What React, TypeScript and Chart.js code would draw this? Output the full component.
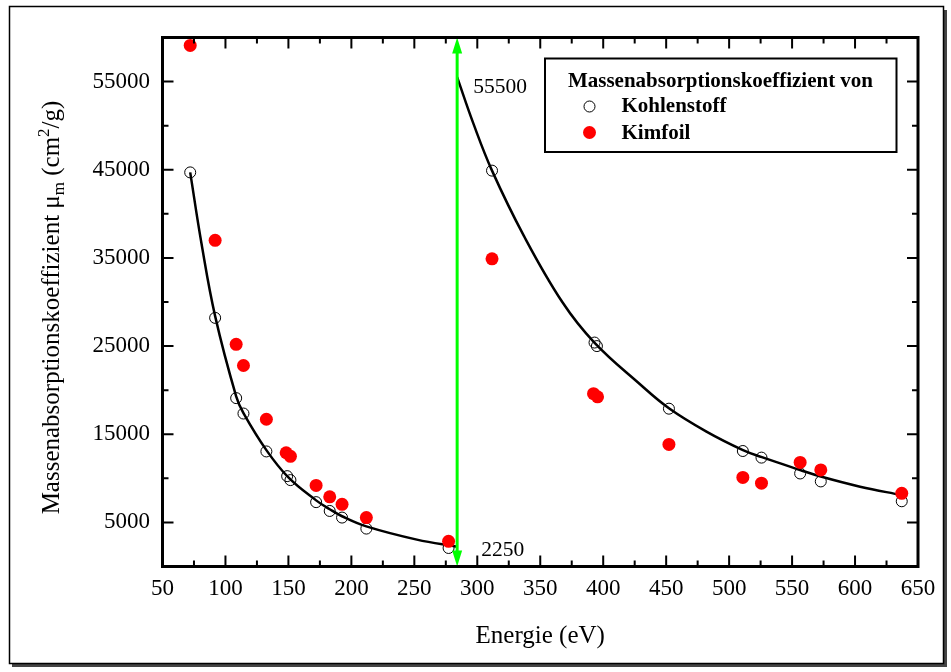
import React, { useEffect, useRef } from "react";
import { Chart, registerables } from "chart.js";

Chart.register(...registerables);

// ---------- data ----------
const kohlenstoffX = [72, 91.8, 108.5, 114.3, 132.5, 149, 151.6, 172, 182.8, 192.6, 211.9, 277.2, 311.7, 393.1, 395, 452.2, 510.9, 525.7, 556.4, 572.8, 637.1];
const kohlenstoffY = [44700, 28200, 19100, 17350, 13050, 10250, 9800, 7300, 6300, 5550, 4300, 2100, 44900, 25400, 25000, 17900, 13100, 12350, 10550, 9650, 7400];

const kimfoilX = [72, 91.8, 108.5, 114.3, 132.5, 148.2, 151.6, 172, 182.8, 192.6, 211.9, 277.2, 311.7, 392.3, 395.5, 452.2, 510.9, 525.7, 556.4, 572.8, 637.1];
const kimfoilY = [59100, 37000, 25200, 22800, 16700, 12900, 12500, 9200, 7900, 7050, 5550, 2850, 34900, 19600, 19250, 13850, 10100, 9450, 11800, 10950, 8300];

const fitLowX = [72, 81, 91.8, 108.5, 114.3, 132.5, 150, 172, 182.8, 192.6, 211.9, 252, 284];
const fitLowY = [44700, 36600, 28400, 19300, 17400, 13200, 10100, 7500, 6500, 5700, 4550, 3050, 2250];

const fitHighX = [284, 297, 311.7, 337, 367.5, 393, 429, 452.2, 482, 511, 526, 556.4, 572.8, 604, 637.1];
const fitHighY = [55500, 50200, 44900, 37500, 30000, 25400, 20700, 17950, 15300, 13200, 12400, 10950, 10200, 9050, 8100];

const xTickValues = [50, 100, 150, 200, 250, 300, 350, 400, 450, 500, 550, 600, 650];
const xMinorTicks = [75, 125, 175, 225, 275, 325, 375, 425, 475, 525, 575, 625];
const yTickValues = [5000, 15000, 25000, 35000, 45000, 55000];
const yMinorTicks = [10000, 20000, 30000, 40000, 50000];

const seriesNames = ["Kohlenstoff", "Kimfoil"];
const legendTitle = "Massenabsorptionskoeffizient von";
const xTitle = "Energie (eV)";
const yTitleParts = ["Massenabsorptionskoeffizient \u03bc", "m", " (cm", "2", "/g)"];

const arrowX = 284;
const arrowY = [0, 60000];
const edgeValues = [55500, 2250];
const edgeLabels = ["55500", "2250"];

const SERIF = "'Liberation Serif', 'Times New Roman', serif";

const toPts = (xs: number[], ys: number[]) => xs.map((x, i) => ({ x, y: ys[i] }));

const decorPlugin = {
  id: "decor",
  beforeDraw(chart: any) {
    const ctx = chart.ctx;
    ctx.save();
    ctx.fillStyle = "#ffffff";
    ctx.fillRect(0, 0, chart.width, chart.height);
    // outer frame with shadow
    ctx.fillStyle = "#444444";
    ctx.fillRect(12, 664, 935, 3);
    ctx.fillRect(944, 10, 3, 657);
    ctx.strokeStyle = "#000";
    ctx.lineWidth = 1.5;
    ctx.strokeRect(9.5, 6.5, 934, 657);
    ctx.restore();
  },
  afterDatasetsDraw(chart: any) {
    const ctx = chart.ctx;
    const xs = chart.scales.x;
    const ys = chart.scales.y;
    const ax = xs.getPixelForValue(arrowX);
    const y0 = ys.getPixelForValue(arrowY[0]);
    const y1 = ys.getPixelForValue(arrowY[1]);
    ctx.save();
    ctx.strokeStyle = "#00ff00";
    ctx.fillStyle = "#00ff00";
    ctx.lineWidth = 3;
    ctx.beginPath();
    ctx.moveTo(ax, y0 - 12);
    ctx.lineTo(ax, y1 + 12);
    ctx.stroke();
    // top head
    ctx.beginPath();
    ctx.moveTo(ax, y1);
    ctx.lineTo(ax - 5, y1 + 16);
    ctx.lineTo(ax + 5, y1 + 16);
    ctx.closePath();
    ctx.fill();
    // bottom head
    ctx.beginPath();
    ctx.moveTo(ax, y0);
    ctx.lineTo(ax - 5, y0 - 16);
    ctx.lineTo(ax + 5, y0 - 16);
    ctx.closePath();
    ctx.fill();

    // value labels
    ctx.fillStyle = "#000";
    ctx.font = `21.5px ${SERIF}`;
    ctx.textAlign = "left";
    ctx.textBaseline = "alphabetic";
    ctx.fillText(edgeLabels[0], ax + 16, ys.getPixelForValue(edgeValues[0]) + 16);
    ctx.fillText(edgeLabels[1], ax + 24, ys.getPixelForValue(edgeValues[1]) + 9.5);
    ctx.restore();
  },
  afterDraw(chart: any) {
    const ctx = chart.ctx;
    const { left, right, top, bottom } = chart.chartArea;
    const xs = chart.scales.x;
    const ys = chart.scales.y;
    ctx.save();
    ctx.strokeStyle = "#000";
    ctx.lineWidth = 2;
    ctx.beginPath();
    const major = 11;
    const minor = 6;
    for (const v of xTickValues) {
      const p = xs.getPixelForValue(v);
      ctx.moveTo(p, bottom); ctx.lineTo(p, bottom - major);
      ctx.moveTo(p, top); ctx.lineTo(p, top + major);
    }
    for (const v of xMinorTicks) {
      const p = xs.getPixelForValue(v);
      ctx.moveTo(p, bottom); ctx.lineTo(p, bottom - minor);
      ctx.moveTo(p, top); ctx.lineTo(p, top + minor);
    }
    for (const v of yTickValues) {
      const p = ys.getPixelForValue(v);
      ctx.moveTo(left, p); ctx.lineTo(left + major, p);
      ctx.moveTo(right, p); ctx.lineTo(right - major, p);
    }
    for (const v of yMinorTicks) {
      const p = ys.getPixelForValue(v);
      ctx.moveTo(left, p); ctx.lineTo(left + minor, p);
      ctx.moveTo(right, p); ctx.lineTo(right - minor, p);
    }
    ctx.stroke();
    ctx.lineWidth = 3;
    ctx.strokeRect(left, top, right - left, bottom - top);

    // legend
    ctx.lineWidth = 2;
    ctx.strokeRect(545, 58.5, 351.5, 93.5);
    ctx.fillStyle = "#000";
    ctx.font = `bold 21px ${SERIF}`;
    ctx.textAlign = "center";
    ctx.textBaseline = "alphabetic";
    ctx.fillText(legendTitle, 720.5, 87);
    ctx.textAlign = "left";
    ctx.fillText(seriesNames[0], 621.5, 112);
    ctx.fillText(seriesNames[1], 621.5, 138.5);
    ctx.lineWidth = 1;
    ctx.beginPath();
    ctx.arc(589.5, 106.5, 5.5, 0, Math.PI * 2);
    ctx.stroke();
    ctx.fillStyle = "#ff0000";
    ctx.beginPath();
    ctx.arc(589.5, 132.5, 6.5, 0, Math.PI * 2);
    ctx.fill();

    // x title
    ctx.fillStyle = "#000";
    ctx.font = `25px ${SERIF}`;
    ctx.textAlign = "center";
    ctx.fillText(xTitle, (left + right) / 2, 643);

    // y title with sub/superscript
    const big = `25px ${SERIF}`;
    const small = `17px ${SERIF}`;
    const fonts = [big, small, big, small, big];
    const shifts = [0, 5, 0, -10, 0];
    let total = 0;
    const widths = yTitleParts.map((t, i) => {
      ctx.font = fonts[i];
      const w = ctx.measureText(t).width;
      total += w;
      return w;
    });
    ctx.translate(59, 307.5);
    ctx.rotate(-Math.PI / 2);
    ctx.textAlign = "left";
    let cx = -total / 2;
    yTitleParts.forEach((t, i) => {
      ctx.font = fonts[i];
      ctx.fillText(t, cx, shifts[i]);
      cx += widths[i];
    });
    ctx.restore();
  },
};

export default function App() {
  const ref = useRef<HTMLCanvasElement | null>(null);
  useEffect(() => {
    if (!ref.current) return;
    const chart = new Chart(ref.current, {
      type: "scatter",
      data: {
        datasets: [
          {
            label: seriesNames[1],
            data: toPts(kimfoilX, kimfoilY),
            pointRadius: 6.5,
            pointBackgroundColor: "#ff0000",
            pointBorderColor: "#ff0000",
            pointBorderWidth: 0,
            showLine: false,
          },
          {
            label: "fitLow",
            data: toPts(fitLowX, fitLowY),
            showLine: true,
            pointRadius: 0,
            borderColor: "#000",
            borderWidth: 2.5,
            tension: 0.4,
            fill: false,
          } as any,
          {
            label: "fitHigh",
            data: toPts(fitHighX, fitHighY),
            showLine: true,
            pointRadius: 0,
            borderColor: "#000",
            borderWidth: 2.5,
            tension: 0.4,
            fill: false,
          } as any,
          {
            label: seriesNames[0],
            data: toPts(kohlenstoffX, kohlenstoffY),
            pointRadius: 5.5,
            pointBackgroundColor: "rgba(0,0,0,0)",
            pointBorderColor: "#000",
            pointBorderWidth: 1,
            showLine: false,
          },
        ],
      },
      options: {
        responsive: false,
        animation: false,
        events: [],
        layout: { padding: { left: 0, right: 33, top: 37.5, bottom: 0 } },
        plugins: {
          legend: { display: false },
          tooltip: { enabled: false },
        },
        scales: {
          x: {
            type: "linear",
            min: 50,
            max: 650,
            grid: { display: false, drawTicks: false },
            border: { display: false },
            afterBuildTicks: (scale: any) => {
              scale.ticks = xTickValues.map((value) => ({ value }));
            },
            afterFit: (scale: any) => {
              scale.height = 105.5;
            },
            ticks: {
              padding: 9,
              autoSkip: false,
              maxRotation: 0,
              color: "#000",
              font: { family: SERIF, size: 23 },
              callback: (v: any) => String(v),
            },
          },
          y: {
            type: "linear",
            min: 0,
            max: 60000,
            grid: { display: false, drawTicks: false },
            border: { display: false },
            afterBuildTicks: (scale: any) => {
              scale.ticks = yTickValues.map((value) => ({ value }));
            },
            afterFit: (scale: any) => {
              scale.width = 162.5;
            },
            ticks: {
              padding: 12.5,
              autoSkip: false,
              color: "#000",
              font: { family: SERIF, size: 23 },
              callback: (v: any) => String(v),
            },
          },
        },
      },
      plugins: [decorPlugin],
    });
    return () => chart.destroy();
  }, []);
  return (
    <canvas
      ref={ref}
      width={951}
      height={672}
      style={{ position: "fixed", left: 0, top: 0, display: "block" }}
    />
  );
}
